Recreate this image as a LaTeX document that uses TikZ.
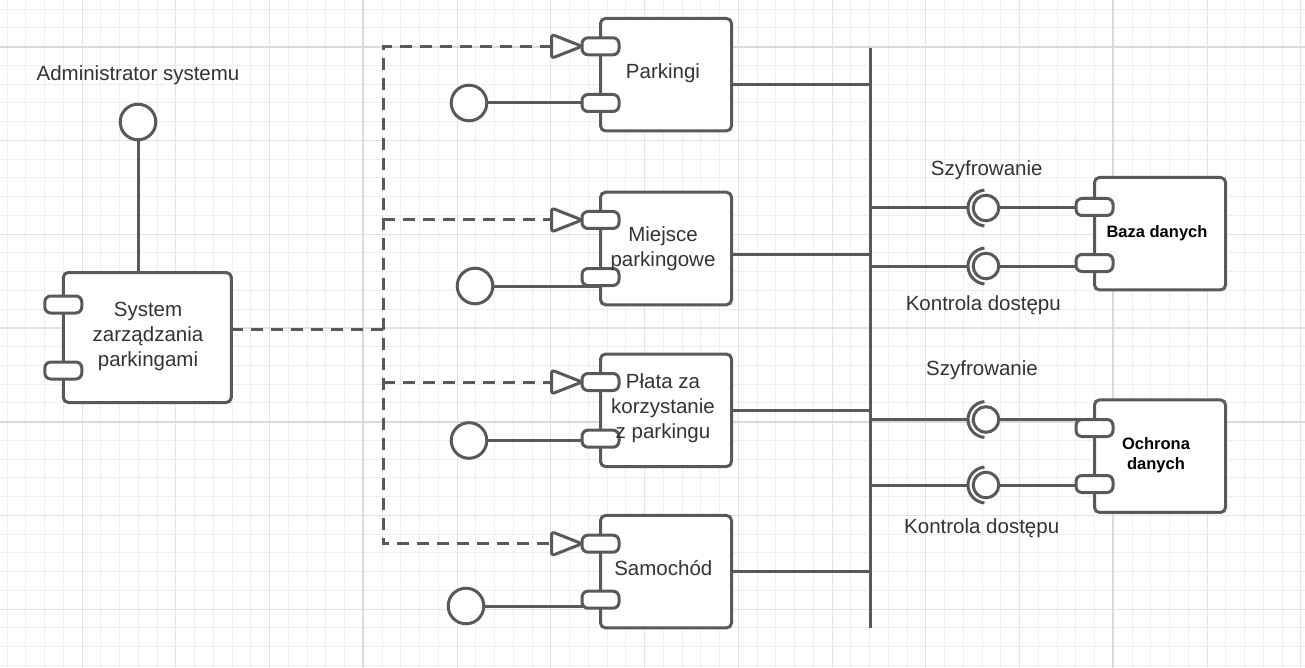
\documentclass[tikz,border=0pt]{standalone}
\usepackage{fontspec}
\setmainfont{Liberation Sans}
\definecolor{ln}{HTML}{595959}
\definecolor{tx}{HTML}{333333}
\definecolor{gminor}{HTML}{EFEFEF}
\definecolor{gmajor}{HTML}{E3E3E3}
\definecolor{gheavy}{HTML}{DADADA}
\begin{document}
\begin{tikzpicture}[x=1pt,y=-1pt,
  comp/.style={draw=ln, line width=3pt, fill=white, rounded corners=5pt, minimum width=131pt, minimum height=112.5pt, inner sep=0pt, outer sep=0pt},
  port/.style={draw=ln, line width=3pt, fill=white, rounded corners=6pt, minimum width=37pt, minimum height=17pt, inner sep=0pt, outer sep=0pt},
  conn/.style={draw=ln, line width=3pt},
  dashconn/.style={draw=ln, line width=3pt, dash pattern=on 12pt off 8pt},
  tri/.style={draw=ln, line width=3pt, fill=white, rounded corners=3pt, line join=round},
  lolly/.style={circle, draw=ln, line width=3pt, fill=white, minimum size=35.6pt, inner sep=0pt, outer sep=0pt},
  ball/.style={circle, draw=ln, line width=3pt, fill=white, minimum size=25.6pt, inner sep=0pt, outer sep=0pt},
  socket/.style={draw=ln, line width=3pt},
  lbl/.style={text=tx, font=\fontsize{20.5}{25}\selectfont, align=center, inner sep=0pt},
  blbl/.style={text=black, font=\fontsize{16.5}{20}\selectfont\bfseries, align=center, inner sep=0pt}]

% background and grid
\fill[white] (0,0) rectangle (1305,668);
\useasboundingbox (0,0) rectangle (1305,668);
\foreach \i in {0,...,69} {\pgfmathsetmacro\xx{7.05+18.75*\i}\draw[gminor, line width=1pt] (\xx,0) -- (\xx,668);}
\foreach \j in {0,...,35} {\pgfmathsetmacro\yy{9.2+18.75*\j}\draw[gminor, line width=1pt] (0,\yy) -- (1305,\yy);}
\foreach \i in {4,9,...,69} {\pgfmathsetmacro\xx{7.05+18.75*\i}\draw[gmajor, line width=1.1pt] (\xx,0) -- (\xx,668);}
\foreach \j in {2,7,...,32} {\pgfmathsetmacro\yy{9.2+18.75*\j}\draw[gmajor, line width=1.1pt] (0,\yy) -- (1305,\yy);}
\foreach \i in {19,59} {\pgfmathsetmacro\xx{7.05+18.75*\i}\draw[gheavy, line width=1.8pt] (\xx,0) -- (\xx,668);}
\foreach \j in {2,22} {\pgfmathsetmacro\yy{9.2+18.75*\j}\draw[gheavy, line width=1.8pt] (0,\yy) -- (1305,\yy);}

% coordinates for dashed trunk and bus
\coordinate (dv) at (383,0);
\coordinate (busT) at (870,48);
\coordinate (busB) at (870,628);

% administrator interface
\node[lolly] (adm) at (138,122) {};
% main system
\node[comp, minimum width=168pt, minimum height=130pt] (sys) at (147.3,337.5) {};
\draw[conn] (adm.south) -- (adm.south |- sys.north);
\node[port] (sp1) at (sys.west |- 0,304.5) {};
\node[port] (sp2) at (sys.west |- 0,370.5) {};

% middle components
\node[comp] (park) at (666,74.7) {};
\node[comp] (miej) at (666,248.5) {};
\node[comp] (plat) at (666,410.3) {};
\node[comp] (samo) at (666,571.7) {};

% right connectors to bus
\draw[conn] (busT) -- (busB);
\draw[conn] (park.east |- 0,85) -- (busT |- 0,85);
\draw[conn] (miej.east |- 0,254) -- (busT |- 0,254);
\draw[conn] (plat.east |- 0,410) -- (busT |- 0,410);
\draw[conn] (samo.east |- 0,571) -- (busT |- 0,571);

% lollipops (provided interfaces)
\node[lolly] (l1) at (469,103) {};
\node[lolly] (l2) at (475,286) {};
\node[lolly] (l3) at (469,440.5) {};
\node[lolly] (l4) at (466,606) {};
\draw[conn] (l1.east) -- (park.west |- l1.east);
\draw[conn] (l2.east) -- (miej.west |- l2.east);
\draw[conn] (l3.east) -- (plat.west |- l3.east);
\draw[conn] (l4.east) -- (samo.west |- l4.east);

% ports of middle components
\node[port] (pp1) at (park.west |- 0,46.3) {};
\node[port] (pp2) at (park.west |- 0,103) {};
\node[port] (mp1) at (miej.west |- 0,220) {};
\node[port] (mp2) at (miej.west |- 0,277) {};
\node[port] (qp1) at (plat.west |- 0,382) {};
\node[port] (qp2) at (plat.west |- 0,438.7) {};
\node[port] (cp1) at (samo.west |- 0,543.7) {};
\node[port] (cp2) at (samo.west |- 0,599.7) {};

% dashed dependencies
\coordinate (t1) at ([xshift=-30.5pt]pp1.west);
\coordinate (t2) at ([xshift=-30.5pt]mp1.west);
\coordinate (t3) at ([xshift=-30.5pt]qp1.west);
\coordinate (t4) at ([xshift=-30.5pt]cp1.west);
\draw[dashconn] (t1) -- (dv |- t1) -- (dv |- t4) -- (t4);
\draw[dashconn] (dv |- t2) -- (t2);
\draw[dashconn] (dv |- t3) -- (t3);
\draw[dashconn] (sys.east |- 0,329) -- (dv |- 0,329);
\foreach \p/\t in {pp1/t1, mp1/t2, qp1/t3, cp1/t4} {
  \draw[tri] ([yshift=12pt]\t) -- (\p.west) -- ([yshift=-12pt]\t) -- cycle;
}

% right components
\node[comp] (baza) at (1160,233.7) {};
\node[comp] (ochr) at (1160,456.2) {};

% balls and sockets
\node[ball] (b1) at (986,208) {};
\node[ball] (b2) at (986,266) {};
\node[ball] (b3) at (986,419.5) {};
\node[ball] (b4) at (986,485) {};
\foreach \b in {b1,b2,b3,b4} {
  \draw[socket] (\b.center) ++(95:18pt) arc[start angle=95, end angle=265, radius=18pt];
  \draw[conn] (busT |- \b.center) -- ([xshift=-18pt]\b.center);
}
\draw[conn] (b1.east) -- (baza.west |- b1.east);
\draw[conn] (b2.east) -- (baza.west |- b2.east);
\draw[conn] (b3.east) -- (ochr.west |- b3.east);
\draw[conn] (b4.east) -- (ochr.west |- b4.east);
\node[port] (bp1) at (baza.west |- 0,207) {};
\node[port] (bp2) at (baza.west |- 0,263) {};
\node[port] (op1) at (ochr.west |- 0,428) {};
\node[port] (op2) at (ochr.west |- 0,484) {};

% texts
\node[lbl, anchor=base] (tadm) at (138,80.5) {Administrator systemu};
\node[lbl] (tsys) at (148,336.5) {System\\zarządzania\\parkingami};
\node[lbl, anchor=base] (tpark) at (663,79) {Parkingi};
\node[lbl] (tmiej) at (663,248.5) {Miejsce\\parkingowe};
\node[lbl] (tplat) at (663,408) {Płata za\\korzystanie\\z parkingu};
\node[lbl, anchor=base] (tsamo) at (663.3,575) {Samochód};
\node[lbl, anchor=base] (tsz1) at (986.7,176) {Szyfrowanie};
\node[lbl, anchor=base] (tko1) at (983.3,310) {Kontrola dostępu};
\node[lbl, anchor=base] (tsz2) at (982,375.5) {Szyfrowanie};
\node[lbl, anchor=base] (tko2) at (981.7,533) {Kontrola dostępu};
\node[blbl, anchor=base] (tbaza) at (1157,237) {Baza danych};
\node[blbl] (tochr) at (1156,455) {Ochrona\\danych};
\end{tikzpicture}
\end{document}
